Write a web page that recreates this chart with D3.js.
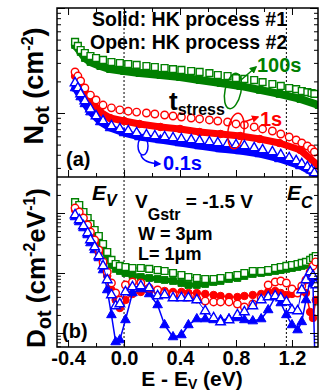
<!DOCTYPE html>
<html>
<head>
<meta charset="utf-8">
<script src="https://cdn.jsdelivr.net/npm/d3@7"></script>
<style>
  body { margin: 0; background: #fff; }
  svg text { font-family: "Liberation Sans", Arial, sans-serif; font-weight: bold; }
</style>
</head>
<body>
<div id="chart"></div>
<script>
const width = 320;
const height = 392;
const plotL = 57, plotR = 318;
const plotT = 8, plotM = 177, plotB = 347;

const green = "#008000", red = "#ff0000", blue = "#0000ff";

// energy grids, E - Ev (eV)
const eOpenA = [-0.35,-0.33,-0.31,-0.28,-0.24,-0.20,-0.15,-0.09,-0.03,0.03,0.09,0.16,0.22,0.29,0.35,0.41,0.48,0.54,0.61,0.67,0.74,0.80,0.86,0.93,0.99,1.06,1.12,1.18,1.23,1.27,1.31,1.34,1.36];
const eFillA = [-0.35,-0.31,-0.28,-0.24,-0.17,-0.10,0.0,0.11,0.26,0.40,0.54,0.69,0.83,0.97,1.11,1.26,1.39];
const eB = [-0.35,-0.32,-0.29,-0.26,-0.24,-0.21,-0.18,-0.15,-0.12,-0.09,-0.06,-0.03,0.01,0.06,0.12,0.18,0.24,0.29,0.35,0.41,0.46,0.52,0.58,0.64,0.69,0.75,0.81,0.86,0.92,0.98,1.03,1.08,1.12,1.16,1.20,1.24,1.27,1.30,1.33,1.35,1.37];

// (a) Not, units of 1e12 cm^-2
const notOpen100 = [4.75,4.35,3.98,3.73,3.49,3.34,3.20,3.06,2.99,2.93,2.87,2.80,2.74,2.68,2.62,2.57,2.51,2.46,2.40,2.30,2.25,2.15,2.11,2.06,1.97,1.89,1.81,1.73,1.69,1.62,1.58,1.55,1.52];
const notOpen1 = [2.46,2.25,2.02,1.73,1.48,1.33,1.19,1.12,1.07,1.04,1.02,1.0,0.978,0.957,0.936,0.916,0.896,0.877,0.858,0.839,0.821,0.786,0.769,0.736,0.705,0.674,0.631,0.591,0.553,0.518,0.485,0.454,0.425];
const notOpen01 = [1.93,1.73,1.52,1.30,1.09,0.936,0.839,0.752,0.705,0.674,0.645,0.617,0.604,0.591,0.578,0.565,0.553,0.541,0.529,0.518,0.507,0.496,0.485,0.464,0.444,0.425,0.398,0.373,0.349,0.327,0.306,0.286,0.268];
const notFill100 = [4.44,3.81,3.34,3.06,2.80,2.62,2.51,2.40,2.30,2.20,2.06,1.93,1.81,1.66,1.52,1.36,1.19];
const notFill1 = [2.25,1.85,1.58,1.33,1.02,0.896,0.839,0.786,0.736,0.705,0.659,0.631,0.604,0.565,0.518,0.444,0.313];
const notFill01 = [1.73,1.42,1.22,1.02,0.821,0.720,0.645,0.591,0.553,0.518,0.485,0.454,0.435,0.407,0.365,0.313,0.251];

// (b) Dot, units of 1e12 cm^-2 eV^-1
const dotOpen100 = [15.2,13.6,10.4,8.25,6.56,5.21,4.14,3.04,2.24,1.65,1.41,1.31,1.26,1.21,1.21,1.17,1.12,1.08,1.0,0.926,0.858,0.825,0.794,0.794,0.825,0.891,0.926,1.0,1.08,1.08,1.12,1.21,1.26,1.31,1.36,1.41,1.47,1.53,1.65,1.78,1.92];
const dotFill100 = [13.6,11.2,8.91,7.08,5.62,4.30,3.29,2.42,1.78,1.36,1.17,1.08,1.0,0.926,0.858,0.825,0.794,0.765,0.736,0.681,0.631,0.631,0.656,0.708,0.736,0.794,0.825,0.891,0.962,1.0,1.04,1.08,1.12,1.17,1.21,1.26,1.31,1.36,1.47,1.65,1.85];
const dotOpen1 = [12.1,10.4,8.25,6.31,4.82,3.55,2.42,1.53,1.04,0.681,0.464,0.355,0.631,0.708,0.681,0.562,0.521,0.464,0.430,0.414,0.398,0.369,0.341,0.329,0.329,0.329,0.304,0.271,0.304,0.383,0.631,0.708,0.736,0.681,0.541,0.464,0.607,0.765,1.04,1.31,1.53];
const dotFill1 = [11.2,9.62,7.64,5.84,4.30,3.16,2.15,1.41,0.891,0.521,0.355,0.261,0.355,0.447,0.483,0.501,0.501,0.501,0.483,0.483,0.464,0.464,0.447,0.430,0.414,0.398,0.398,0.414,0.430,0.447,0.483,0.501,0.464,0.430,0.447,0.483,0.501,0.464,0.224,0.178,0.355];
const dotOpen01 = [9.26,7.64,6.07,4.64,3.55,2.71,1.92,1.31,0.765,0.430,0.282,0.304,0.483,0.585,0.607,0.562,0.414,0.430,0.383,0.383,0.383,0.355,0.233,0.178,0.153,0.165,0.2,0.224,0.282,0.355,0.398,0.414,0.383,0.329,0.242,0.233,0.521,0.765,1.04,0.891,0.631];
const dotFill01 = [8.58,7.08,5.62,4.30,3.16,2.42,1.78,1.12,0.521,0.2,0.0708,0.0764,0.165,0.464,0.541,0.447,0.293,0.136,0.0858,0.0926,0.136,0.171,0.171,0.165,0.165,0.171,0.178,0.165,0.158,0.171,0.242,0.398,0.316,0.2,0.136,0.112,0.153,0.355,0.765,0.656,0.01];

const xTicks = [-0.4, 0.0, 0.4, 0.8, 1.2];
const xMinor = [-0.2, 0.2, 0.6, 1.0];
const bandEdges = [0.0, 1.16];

const svg = d3.select("#chart").append("svg")
  .attr("width", width).attr("height", height);

const x = d3.scaleLinear().domain([-0.479, 1.386]).range([plotL, plotR]);
const yA = d3.scaleLog().domain([0.2457, 10]).range([plotM, plotT]);
const yB = d3.scaleLog().domain([0.0584, 39.8]).range([plotB, plotM]);

const defs = svg.append("defs");
defs.append("clipPath").attr("id", "clipA").append("rect")
  .attr("x", plotL).attr("y", plotT).attr("width", plotR - plotL).attr("height", plotM - plotT);
defs.append("clipPath").attr("id", "clipB").append("rect")
  .attr("x", plotL).attr("y", plotM).attr("width", plotR - plotL).attr("height", plotB - plotM);
[["g", green], ["r", red], ["b", blue]].forEach(([k, c]) => {
  defs.append("marker").attr("id", "arr" + k)
    .attr("viewBox", "0 0 10 10").attr("refX", 8).attr("refY", 5)
    .attr("markerWidth", 5).attr("markerHeight", 5).attr("orient", "auto")
    .append("path").attr("d", "M0,0L10,5L0,10z").attr("fill", c);
});

// dashed band edge lines
svg.selectAll(".edge").data(bandEdges).enter().append("line")
  .attr("x1", d => x(d)).attr("x2", d => x(d))
  .attr("y1", plotT).attr("y2", plotB)
  .attr("stroke", "#000").attr("stroke-width", 1).attr("stroke-dasharray", "2,2");

const symbols = { sq: d3.symbolSquare, ci: d3.symbolCircle, tr: d3.symbolTriangle };
const sizes = { sq: 46, ci: 44, tr: 40 };

function drawSeries(g, y, es, vs, color, shape, filled, lineW) {
  const pts = es.map((e, i) => [e, vs[i]]);
  if (lineW > 0) {
    g.append("path").datum(pts)
      .attr("d", d3.line().x(d => x(d[0])).y(d => y(d[1])))
      .attr("fill", "none").attr("stroke", color)
      .attr("stroke-width", lineW).attr("stroke-linejoin", "round").attr("stroke-linecap", "round");
  }
  g.selectAll(null).data(pts).enter().append("path")
    .attr("d", d3.symbol(symbols[shape], sizes[shape]))
    .attr("transform", d => `translate(${x(d[0])},${y(d[1])})`)
    .attr("fill", filled ? color : "#fff")
    .attr("stroke", color).attr("stroke-width", filled ? 1 : 1.4);
}

const gA = svg.append("g").attr("clip-path", "url(#clipA)");
drawSeries(gA, yA, eFillA, notFill100, green, "sq", true, 8);
drawSeries(gA, yA, eFillA, notFill1, red, "ci", true, 7);
drawSeries(gA, yA, eFillA, notFill01, blue, "tr", true, 7);
drawSeries(gA, yA, eOpenA, notOpen100, green, "sq", false, 0);
drawSeries(gA, yA, eOpenA, notOpen1, red, "ci", false, 0);
drawSeries(gA, yA, eOpenA, notOpen01, blue, "tr", false, 0);

const gB = svg.append("g").attr("clip-path", "url(#clipB)");
drawSeries(gB, yB, eB, dotFill100, green, "sq", true, 5);
drawSeries(gB, yB, eB, dotFill1, red, "ci", true, 1.5);
drawSeries(gB, yB, eB, dotFill01, blue, "tr", true, 1.5);
drawSeries(gB, yB, eB, dotOpen100, green, "sq", false, 1);
drawSeries(gB, yB, eB, dotOpen1, red, "ci", false, 1);
drawSeries(gB, yB, eB, dotOpen01, blue, "tr", false, 1);

// frames
svg.append("rect").attr("x", plotL).attr("y", plotT)
  .attr("width", plotR - plotL).attr("height", plotB - plotT)
  .attr("fill", "none").attr("stroke", "#000").attr("stroke-width", 1.5);
svg.append("line").attr("x1", plotL).attr("x2", plotR).attr("y1", plotM).attr("y2", plotM)
  .attr("stroke", "#000").attr("stroke-width", 1.5);

// log axes, ticks inward
function logAxis(y, xPos, dir) {
  const [lo, hi] = y.domain();
  const all = y.ticks().filter(v => v >= lo && v <= hi);
  const majors = all.filter(v => Math.abs(Math.log10(v) - Math.round(Math.log10(v))) < 1e-6);
  const minors = all.filter(v => !majors.includes(v));
  const mk = dir === "left" ? d3.axisRight : d3.axisLeft;
  svg.append("g").attr("transform", `translate(${xPos},0)`)
    .call(mk(y).tickValues(minors).tickSize(4).tickSizeOuter(0).tickFormat(""))
    .call(g => g.select(".domain").remove());
  svg.append("g").attr("transform", `translate(${xPos},0)`)
    .call(mk(y).tickValues(majors).tickSize(8).tickSizeOuter(0).tickFormat(""))
    .call(g => g.select(".domain").remove());
}
logAxis(yA, plotL, "left");
logAxis(yA, plotR, "right");
logAxis(yB, plotL, "left");
logAxis(yB, plotR, "right");

// x ticks
function xAxisAt(yPos, up, withLabels) {
  const ax = d3.axisBottom(x).tickSizeInner(up ? -7 : 7);
  const g = svg.append("g").attr("transform", `translate(0,${yPos})`)
    .call(ax.tickValues(xTicks).tickSizeOuter(0).tickPadding(4)
      .tickFormat(withLabels ? d3.format(".1f") : ""));
  g.select(".domain").remove();
  if (withLabels) {
    g.selectAll("text").attr("font-size", 20).attr("fill", "#000")
      .attr("font-family", "Liberation Sans, Arial, sans-serif")
      .text(d => d3.format(".1f")(d).replace("\u2212", "-"));
  }
  const gm = svg.append("g").attr("transform", `translate(0,${yPos})`)
    .call(d3.axisBottom(x).tickValues(xMinor).tickSizeInner(up ? -4 : 4).tickSizeOuter(0).tickFormat(""));
  gm.select(".domain").remove();
}
xAxisAt(plotB, true, true);
xAxisAt(plotM, true, false);
xAxisAt(plotT, false, false);

// axis titles
svg.append("text").attr("x", 192).attr("y", 386).attr("text-anchor", "middle")
  .attr("font-size", 21)
  .call(t => {
    t.append("tspan").text("E - E");
    t.append("tspan").attr("font-size", 14).attr("dy", 3).text("V");
    t.append("tspan").attr("dy", -3).text(" (eV)");
  });

svg.append("text").attr("transform", "translate(43,86) rotate(-90)")
  .attr("text-anchor", "middle").attr("font-size", 27)
  .call(t => {
    t.append("tspan").text("N");
    t.append("tspan").attr("font-size", 20).attr("dy", 6).text("ot");
    t.append("tspan").attr("dy", -6).text(" (cm");
    t.append("tspan").attr("font-size", 16).attr("dy", -10).text("-2");
    t.append("tspan").attr("dy", 10).text(")");
  });

svg.append("text").attr("transform", "translate(45,268) rotate(-90)")
  .attr("text-anchor", "middle").attr("font-size", 26)
  .call(t => {
    t.append("tspan").text("D");
    t.append("tspan").attr("font-size", 20).attr("dy", 6).text("ot");
    t.append("tspan").attr("dy", -6).text(" (cm");
    t.append("tspan").attr("font-size", 16).attr("dy", -10).text("-2");
    t.append("tspan").attr("dy", 10).text("eV");
    t.append("tspan").attr("font-size", 16).attr("dy", -10).text("-1");
    t.append("tspan").attr("dy", 10).text(")");
  });

// legend notes
svg.append("text").attr("x", 92).attr("y", 26).attr("font-size", 19.5).text("Solid: HK process #1");
svg.append("text").attr("x", 90).attr("y", 49).attr("font-size", 19.5).text("Open: HK process #2");

// panel tags
svg.append("text").attr("x", 66).attr("y", 166).attr("font-size", 20).text("(a)");
svg.append("text").attr("x", 62).attr("y", 338).attr("font-size", 20).text("(b)");

// t_stress annotations
svg.append("text").attr("x", 169).attr("y", 110).attr("font-size", 26)
  .call(t => {
    t.append("tspan").text("t");
    t.append("tspan").attr("font-size", 16).attr("dy", 5).text("stress");
  });

svg.append("ellipse").attr("cx", 233).attr("cy", 91).attr("rx", 8).attr("ry", 18)
  .attr("transform", "rotate(12,233,91)")
  .attr("fill", "none").attr("stroke", green).attr("stroke-width", 1.5);
svg.append("line").attr("x1", 241).attr("y1", 80).attr("x2", 256).attr("y2", 67)
  .attr("stroke", green).attr("stroke-width", 1.5).attr("marker-end", "url(#arrg)");
svg.append("text").attr("x", 257).attr("y", 72).attr("font-size", 20).attr("fill", green).text("100s");

svg.append("ellipse").attr("cx", 236).attr("cy", 131).attr("rx", 8).attr("ry", 18)
  .attr("transform", "rotate(8,236,131)")
  .attr("fill", "none").attr("stroke", red).attr("stroke-width", 1.5);
svg.append("line").attr("x1", 244).attr("y1", 122).attr("x2", 258).attr("y2", 117)
  .attr("stroke", red).attr("stroke-width", 1.5).attr("marker-end", "url(#arrr)");
svg.append("text").attr("x", 260).attr("y", 126).attr("font-size", 20).attr("fill", red).text("1s");

svg.append("ellipse").attr("cx", 143).attr("cy", 146).attr("rx", 5).attr("ry", 9)
  .attr("fill", "none").attr("stroke", blue).attr("stroke-width", 1.5);
svg.append("path").attr("d", "M141,155 Q143,163 160,164")
  .attr("fill", "none").attr("stroke", blue).attr("stroke-width", 1.5).attr("marker-end", "url(#arrb)");
svg.append("text").attr("x", 163).attr("y", 170).attr("font-size", 20).attr("fill", blue).text("0.1s");

// band edge labels
svg.append("text").attr("x", 92).attr("y", 200).attr("font-size", 21).attr("font-style", "italic")
  .call(t => {
    t.append("tspan").text("E");
    t.append("tspan").attr("font-size", 16).attr("dy", 6).text("V");
  });
svg.append("text").attr("x", 287).attr("y", 200).attr("font-size", 21).attr("font-style", "italic")
  .call(t => {
    t.append("tspan").text("E");
    t.append("tspan").attr("font-size", 16).attr("dy", 8).text("C");
  });

// stress conditions
svg.append("text").attr("x", 135).attr("y", 208).attr("font-size", 19)
  .call(t => {
    t.append("tspan").text("V");
    t.append("tspan").attr("font-size", 16).attr("dy", 12).text("Gstr");
    t.append("tspan").attr("dy", -12).text(" = -1.5 V");
  });
svg.append("text").attr("x", 138).attr("y", 240).attr("font-size", 18).text("W = 3\u03bcm");
svg.append("text").attr("x", 138).attr("y", 260).attr("font-size", 18).text("L= 1\u03bcm");
</script>
</body>
</html>
